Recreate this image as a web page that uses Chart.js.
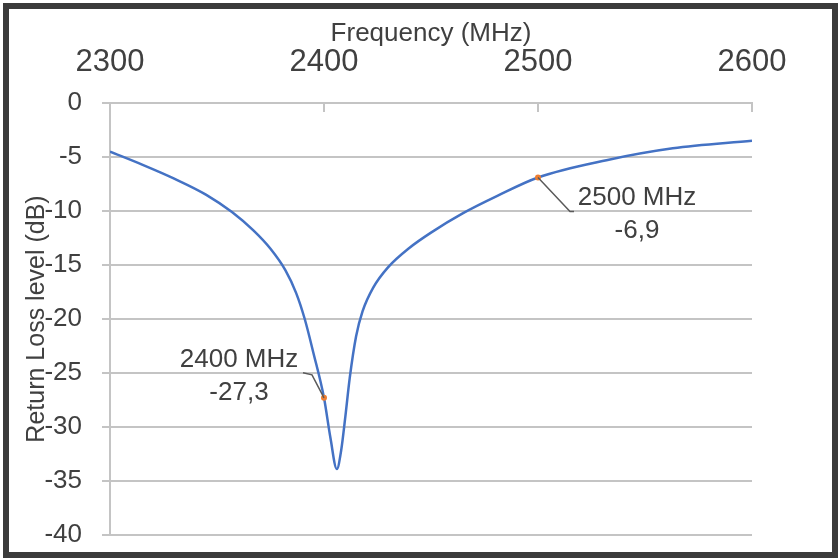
<!DOCTYPE html>
<html>
<head>
<meta charset="utf-8">
<script src="https://cdn.jsdelivr.net/npm/chart.js@4/dist/chart.umd.min.js"></script>
<style>
  html, body { margin: 0; padding: 0; background: #fff; }
  #wrap { position: relative; width: 840px; height: 559px; }
  #frame {
    position: absolute; left: 3px; top: 3px; right: 2px; bottom: 1px;
    border: 6px solid #3b3b3b; pointer-events: none;
  }
</style>
</head>
<body>
<div id="wrap">
  <canvas id="rlChart"></canvas>
  <div id="frame"></div>
</div>
<script>
// Return loss curve (MHz, dB)
const freqs = [2300, 2315, 2330, 2345, 2357, 2367, 2375, 2382, 2387, 2391, 2395, 2400, 2403, 2406, 2408, 2410, 2412, 2415, 2418, 2423, 2430, 2440, 2450, 2465, 2481, 2500, 2532, 2563, 2600];
const returnLoss = [-4.5, -5.7, -7.0, -8.5, -10.1, -11.8, -13.5, -15.5, -17.6, -20.0, -23.1, -27.3, -31.0, -33.9, -32.2, -29.0, -25.5, -21.6, -19.3, -17.1, -15.2, -13.4, -12.0, -10.2, -8.6, -6.9, -5.3, -4.2, -3.5];

// marked points
const markerFreqs = [2400, 2500];
const markerValues = [-27.3, -6.9];
const markerLabels = [['2400 MHz', '-27,3'], ['2500 MHz', '-6,9']];

const textColor = '#404040';
const gridColor = '#c4c4c4';
const fontFamily = '"Liberation Sans", Arial, sans-serif';

// leader line + label placement per marker, relative to the point
const markerLayout = [
  { leader: [[-12, -23], [-21, -25]], text: [-85, -38], gap: 33 },
  { leader: [[32, 34], [36, 34]], text: [99, 20], gap: 33 }
];

const markerPlugin = {
  id: 'markerLabels',
  afterDatasetsDraw(chart) {
    const { ctx, scales: { x, y } } = chart;
    // small ticks hanging down from the top axis
    ctx.save();
    ctx.strokeStyle = gridColor;
    ctx.lineWidth = 2;
    x.ticks.forEach(t => {
      const px = x.getPixelForValue(t.value);
      ctx.beginPath();
      ctx.moveTo(px, y.top);
      ctx.lineTo(px, y.top + 9);
      ctx.stroke();
    });
    ctx.restore();

    markerFreqs.forEach((f, i) => {
      const px = x.getPixelForValue(f);
      const py = y.getPixelForValue(markerValues[i]);
      const lay = markerLayout[i];
      ctx.save();
      ctx.strokeStyle = '#5a5a5a';
      ctx.lineWidth = 1.5;
      ctx.beginPath();
      ctx.moveTo(px, py);
      lay.leader.forEach(p => ctx.lineTo(px + p[0], py + p[1]));
      ctx.stroke();
      ctx.fillStyle = textColor;
      ctx.font = '26px ' + fontFamily;
      ctx.textAlign = 'center';
      ctx.textBaseline = 'middle';
      markerLabels[i].forEach((s, k) => {
        ctx.fillText(s, px + lay.text[0], py + lay.text[1] + k * lay.gap);
      });
      ctx.restore();
    });
  }
};

new Chart(document.getElementById('rlChart'), {
  type: 'line',
  data: {
    datasets: [
      {
        data: markerFreqs.map((f, i) => ({ x: f, y: markerValues[i] })),
        showLine: false,
        pointRadius: 3,
        pointBackgroundColor: '#ED7D31',
        pointBorderWidth: 0,
        order: 0
      },
      {
        data: freqs.map((f, i) => ({ x: f, y: returnLoss[i] })),
        borderColor: '#4472C4',
        borderWidth: 2.5,
        pointRadius: 0,
        cubicInterpolationMode: 'monotone',
        order: 1
      }
    ]
  },
  plugins: [markerPlugin],
  options: {
    responsive: true,
    maintainAspectRatio: false,
    animation: false,
    layout: { padding: { left: 5, top: 5, right: 88, bottom: 24 } },
    plugins: { legend: { display: false }, tooltip: { enabled: false } },
    scales: {
      x: {
        type: 'linear',
        position: 'top',
        min: 2300, max: 2600,
        afterFit(scale) { scale.height = 98; },
        ticks: { stepSize: 100, color: textColor, padding: 22, font: { family: fontFamily, size: 31 }, callback: v => String(v) },
        grid: { display: false, drawTicks: false },
        border: { display: true, color: gridColor, width: 2 },
        title: { display: true, text: 'Frequency (MHz)', color: textColor, padding: { top: 13, bottom: 0 }, font: { family: fontFamily, size: 26 } }
      },
      y: {
        min: -40, max: 0,
        afterFit(scale) {
          scale.width = 105;
          scale.paddingTop = 0;
          scale.paddingBottom = 0;
        },
        ticks: { stepSize: 5, color: textColor, padding: 20, font: { family: fontFamily, size: 26 } },
        grid: { color: gridColor, lineWidth: 2, tickLength: 8 },
        border: { display: true, color: gridColor, width: 2 },
        title: { display: true, text: 'Return Loss level (dB)', color: textColor, padding: { top: 17, bottom: 0 }, font: { family: fontFamily, size: 25 } }
      }
    }
  }
});
</script>
</body>
</html>
